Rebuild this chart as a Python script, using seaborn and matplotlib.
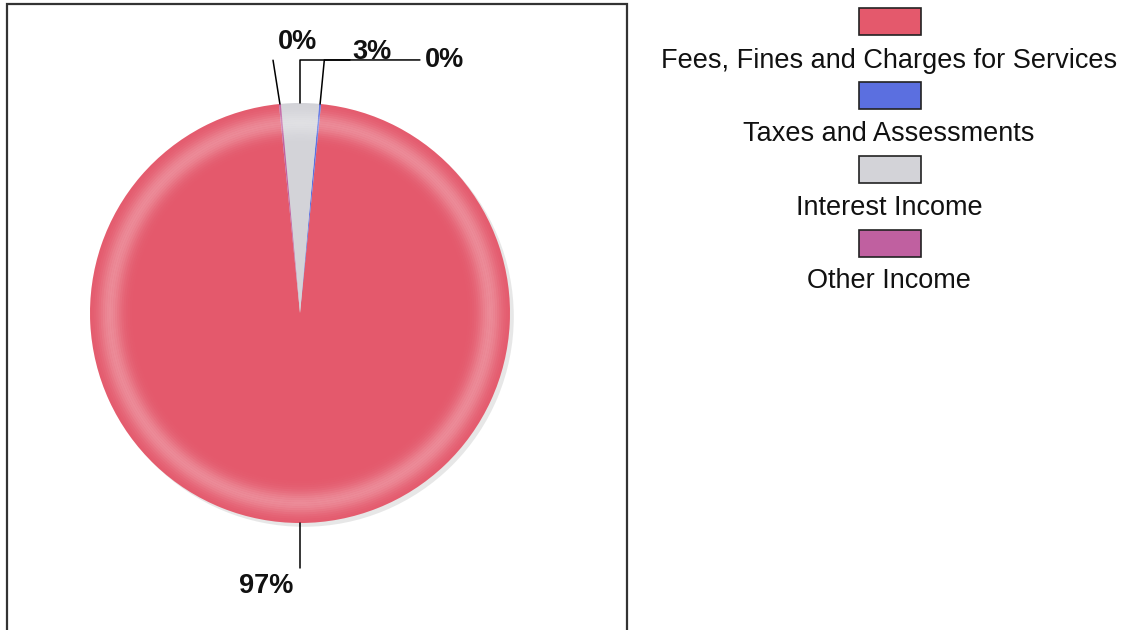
import numpy as np
import matplotlib.pyplot as plt
import seaborn as sns
from matplotlib.patches import Rectangle

categories = [
    "Fees, Fines and Charges for Services",
    "Taxes and Assessments",
    "Interest Income",
    "Other Income",
]
shares = [96.8, 0.15, 2.9, 0.15]
pct_labels = ["97%", "0%", "3%", "0%"]
colors = ["#E4596C", "#5B6FE0", "#D3D3D8", "#C060A0"]

sns.set_theme(style="white")
plt.rcParams["font.family"] = ["Liberation Sans", "DejaVu Sans"]

W, H = 1125, 630
fig = plt.figure(figsize=(11.25, 6.3), dpi=100)
fig.patch.set_facecolor("white")

# frame around the pie panel
fig.add_artist(Rectangle((7 / W, -0.02), 620 / W, 626 / H + 0.02,
                         transform=fig.transFigure, fill=False,
                         edgecolor="#333333", linewidth=1.6))

# pie axes: 1 data unit = 210 px, centre at (300, 313) px
ax = fig.add_axes([(300 - 315) / W, (H - 313 - 315) / H, 630 / W, 630 / H])

fracs = np.array(shares) / sum(shares)
# keep interest income centred at the top
start = 90 - 360 * (fracs[0] + fracs[1] + fracs[2] / 2)

# soft shadow
ax.pie([1], radius=1.0, center=(0.018, -0.018), colors=["#c4c4c4"],
       wedgeprops=dict(alpha=0.4, linewidth=0))

wedges, _ = ax.pie(shares, colors=colors, startangle=start,
                   counterclock=True, radius=1.0,
                   wedgeprops=dict(linewidth=0))

# lighter band near the rim
for r in np.arange(0.74, 1.0, 0.01):
    a = 0.30 * np.exp(-((r - 0.9) / 0.055) ** 2)
    ax.pie([1], radius=r + 0.01, colors=["white"],
           wedgeprops=dict(width=0.01, alpha=a, linewidth=0))

ax.set_xlim(-1.5, 1.5)
ax.set_ylim(-1.5, 1.5)
ax.set_aspect("equal")
ax.axis("off")


def rim(theta, r=1.0):
    t = np.deg2rad(theta)
    return r * np.cos(t), r * np.sin(t)


line_kw = dict(color="black", linewidth=1.1, clip_on=False)
text_kw = dict(fontsize=19.5, fontweight="bold", color="#111111")
y_lead = 1.205

# Fees (bottom)
theta = (wedges[0].theta1 + wedges[0].theta2) / 2
x0, y0 = rim(theta)
ax.plot([x0, x0], [y0, -1.215], **line_kw)
ax.text(x0 - 0.03, -1.24, pct_labels[0], ha="right", va="top", **text_kw)

# Taxes (right edge of gray)
theta = (wedges[1].theta1 + wedges[1].theta2) / 2
x0, y0 = rim(theta)
x1, _ = rim(theta, y_lead / np.sin(np.deg2rad(theta)))
ax.plot([x0, x1, 0.571], [y0, y_lead, y_lead], **line_kw)
ax.text(0.595, y_lead, pct_labels[1], ha="left", va="center", **text_kw)

# Interest (top)
theta = (wedges[2].theta1 + wedges[2].theta2) / 2
x0, y0 = rim(theta)
ax.plot([x0, x0, 0.24], [y0, y_lead, y_lead], **line_kw)
ax.text(0.248, y_lead + 0.005, pct_labels[2], ha="left", va="baseline", **text_kw)

# Other (left edge of gray)
theta = (wedges[3].theta1 + wedges[3].theta2) / 2
x0, y0 = rim(theta)
x1, y1 = rim(theta + 0.6, y_lead / np.sin(np.deg2rad(theta)))
ax.plot([x0, x1], [y0, y1], **line_kw)
ax.text(x1 + 0.025, y1 + 0.025, pct_labels[3], ha="left", va="bottom", **text_kw)

# legend: swatch above each label
for i, (cat, col) in enumerate(zip(categories, colors)):
    top = 8 + 74 * i
    fig.add_artist(Rectangle(((890 - 31) / W, 1 - (top + 27) / H), 62 / W, 27 / H,
                             transform=fig.transFigure, facecolor=col,
                             edgecolor="#222222", linewidth=1.2))
    fig.text(889 / W, 1 - (68 + 73.4 * i) / H, cat, ha="center",
             va="baseline", fontsize=19.5, color="#111111")

fig.savefig("out.png", dpi=100, facecolor="white")
